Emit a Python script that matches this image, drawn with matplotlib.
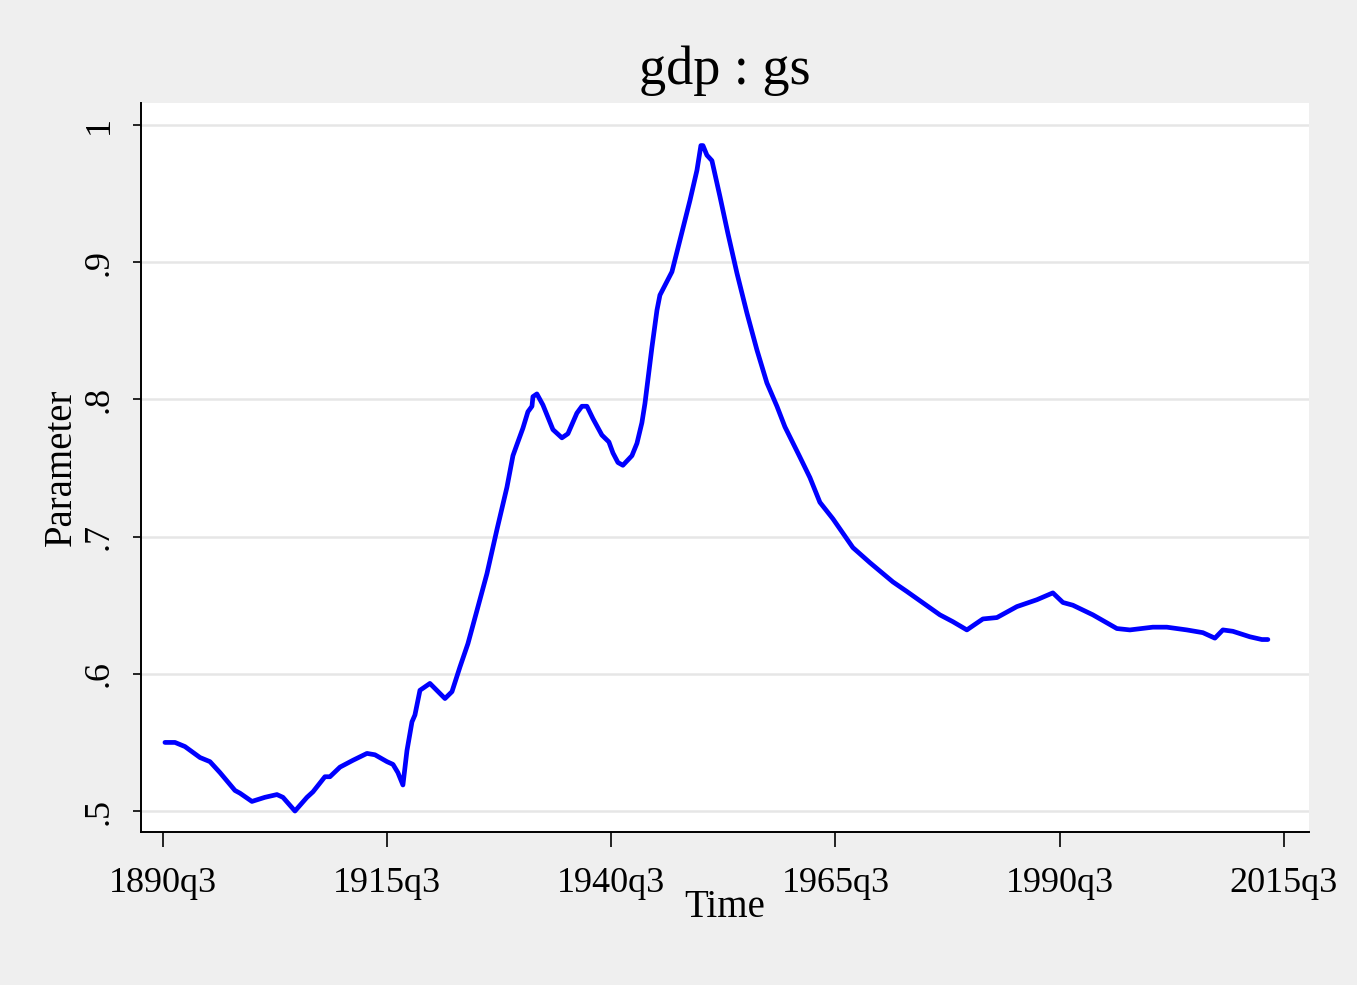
import matplotlib
matplotlib.use("Agg")
import matplotlib.pyplot as plt

# time (fractional year) and parameter values
years = [1890.72, 1891.84, 1892.95, 1894.63, 1895.74, 1896.86, 1898.53, 1899.09,
         1900.42, 1901.87, 1903.21, 1903.88, 1905.22, 1906.56, 1907.23, 1908.56,
         1909.12, 1910.24, 1911.69, 1913.25, 1914.14, 1915.48, 1916.15, 1916.70,
         1917.26, 1917.71, 1918.27, 1918.60, 1919.16, 1920.27, 1921.95, 1922.73,
         1923.62, 1924.51, 1925.51, 1926.63, 1927.74, 1928.86, 1929.53, 1929.97,
         1930.64, 1931.20, 1931.65, 1931.76, 1932.20, 1932.87, 1933.43, 1933.99,
         1934.99, 1935.66, 1936.66, 1937.22, 1937.78, 1938.45, 1939.45, 1940.23,
         1940.68, 1941.24, 1941.79, 1942.80, 1943.36, 1943.91, 1944.25, 1945.03,
         1945.59, 1945.92, 1947.26, 1948.15, 1949.27, 1950.05, 1950.49, 1950.72,
         1951.16, 1951.72, 1952.61, 1953.50, 1954.51, 1955.62, 1956.74, 1957.85,
         1958.97, 1959.86, 1961.53, 1962.65, 1963.76, 1965.21, 1967.44, 1969.34,
         1971.90, 1973.46, 1977.14, 1978.59, 1980.15, 1981.04, 1981.94, 1983.50,
         1985.73, 1987.96, 1989.74, 1990.86, 1991.97, 1994.20, 1996.88, 1998.33,
         2000.89, 2002.45, 2004.68, 2006.47, 2007.81, 2008.70, 2009.81, 2011.71,
         2013.05, 2013.72]
param = [0.550, 0.550, 0.547, 0.539, 0.536, 0.528, 0.515, 0.513,
         0.507, 0.510, 0.512, 0.510, 0.500, 0.510, 0.514, 0.525,
         0.525, 0.532, 0.537, 0.542, 0.541, 0.536, 0.534, 0.528,
         0.519, 0.544, 0.565, 0.570, 0.588, 0.593, 0.582, 0.587,
         0.605, 0.622, 0.646, 0.673, 0.705, 0.736, 0.759, 0.767,
         0.779, 0.791, 0.795, 0.802, 0.804, 0.796, 0.787, 0.778,
         0.772, 0.775, 0.790, 0.795, 0.795, 0.786, 0.774, 0.769,
         0.761, 0.754, 0.752, 0.759, 0.768, 0.783, 0.797, 0.838,
         0.865, 0.876, 0.893, 0.916, 0.945, 0.967, 0.985, 0.985,
         0.978, 0.974, 0.948, 0.921, 0.892, 0.863, 0.836, 0.812,
         0.795, 0.780, 0.758, 0.743, 0.725, 0.713, 0.692, 0.681,
         0.667, 0.660, 0.643, 0.638, 0.632, 0.636, 0.640, 0.641,
         0.649, 0.654, 0.659, 0.652, 0.650, 0.643, 0.633, 0.632,
         0.634, 0.634, 0.632, 0.630, 0.626, 0.632, 0.631, 0.627,
         0.625, 0.625]

xtick_pos = [1890.5, 1915.5, 1940.5, 1965.5, 1990.5, 2015.5]
xtick_labels = ["1890q3", "1915q3", "1940q3", "1965q3", "1990q3", "2015q3"]
ytick_pos = [0.5, 0.6, 0.7, 0.8, 0.9, 1.0]
ytick_labels = [".5", ".6", ".7", ".8", ".9", "1"]

plt.rcParams['font.family'] = ['Liberation Serif', 'DejaVu Serif']

fig = plt.figure(figsize=(13.57, 9.85), dpi=100, facecolor="#efefef")
ax = fig.add_axes([0.1039, 0.1553, 0.8607, 0.7401])
ax.set_facecolor("white")

for y in ytick_pos:
    ax.axhline(y, color="#e6e6e6", lw=1.8, zorder=1)

ax.plot(years, param, color="#0000ff", lw=3.4, zorder=3,
        solid_joinstyle="round", solid_capstyle="round")

ax.set_xlim(1888.05, 2018.3)
ax.set_ylim(0.4847, 1.016)

ax.set_xticks(xtick_pos)
ax.set_xticklabels(xtick_labels, fontsize=26)
ax.set_yticks(ytick_pos)
ax.set_yticklabels(ytick_labels, fontsize=26, rotation=90, va="center")

ax.tick_params(axis="x", length=11, width=1.2, pad=14)
ax.tick_params(axis="y", length=6, width=1.2, pad=12)

for s in ["top", "right"]:
    ax.spines[s].set_visible(False)
for s in ["left", "bottom"]:
    ax.spines[s].set_linewidth(1.4)

ax.set_xlabel("Time", fontsize=28, labelpad=-8)
ax.set_ylabel("Parameter", fontsize=28, labelpad=2)
ax.set_title("gdp : gs", fontsize=39, pad=14)

fig.savefig("out.png", dpi=100, facecolor=fig.get_facecolor())
